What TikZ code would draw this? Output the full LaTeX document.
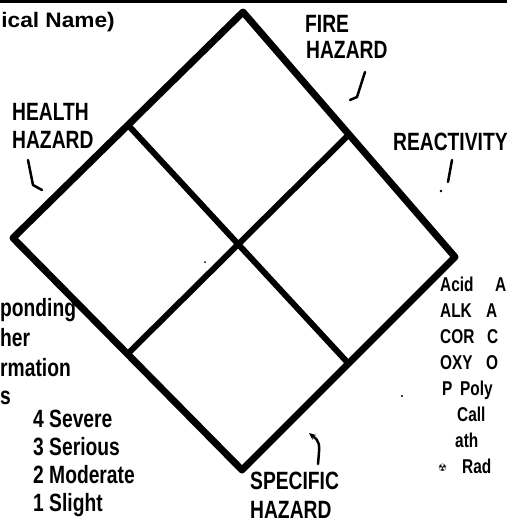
\documentclass[tikz,border=0pt]{standalone}
\usepackage{fontspec}
\setmainfont{Liberation Sans}[FakeStretch=0.77]
\newfontfamily\widefont{Liberation Sans}[FakeStretch=1.08]
\newfontfamily\symfont{DejaVu Sans}
\usetikzlibrary{arrows.meta,calc}
\begin{document}
\begin{tikzpicture}[x=1pt,y=-1pt,
  lbl/.style={anchor=base west, inner sep=0pt, font=\fontsize{25}{25}\selectfont\bfseries},
  small/.style={anchor=base west, inner sep=0pt, font=\fontsize{20}{20}\selectfont\bfseries},
  frame/.style={line width=7pt, line join=round, line cap=round},
  divider/.style={line width=6pt, line cap=round},
  pointer/.style={line width=2.5pt, line cap=round, line join=round}]
\useasboundingbox (0,0) rectangle (507,528);
\clip (0,0) rectangle (507,528);
% top border
\coordinate (bl) at (0,1.5);
\coordinate (br) at (507,1.5);
\draw[line width=2.2pt] (bl) -- (br);
% diamond
\coordinate (T) at (243,12);
\coordinate (R) at (455,257);
\coordinate (B) at (242,470);
\coordinate (L) at (13,238);
\draw[frame] (T) -- (R) -- (B) -- (L) -- cycle;
\coordinate (mTL) at ($(T)!0.5!(L)$);
\coordinate (mTR) at ($(T)!0.5!(R)$);
\coordinate (mBR) at ($(B)!0.5!(R)$);
\coordinate (mBL) at ($(B)!0.5!(L)$);
\draw[divider] (mTL) -- (mBR);
\draw[divider] (mTR) -- (mBL);
% header
\node[anchor=base east, inner sep=0pt, font=\widefont\fontsize{21}{21}\selectfont\bfseries] (cname) at (115,27) {ical Name)};
% labels
\node[lbl] (fire1) at (305,32) {FIRE};
\node[lbl] (fire2) at (306,58) {HAZARD};
\node[lbl] (health1) at (12,120) {HEALTH};
\node[lbl] (health2) at (12,148) {HAZARD};
\node[lbl] (react) at (393,150) {REACTIVITY};
\node[lbl] (spec1) at (250,489) {SPECIFIC};
\node[lbl] (spec2) at (250,518) {HAZARD};
% pointers
\coordinate (fa1) at (365,72);
\coordinate (fa2) at (357,97);
\coordinate (fa3) at (350,100);
\draw[pointer] (fa1) -- (fa2) -- (fa3);
\coordinate (ha1) at (28,160);
\coordinate (ha2) at (33,185);
\coordinate (ha3) at (42,190);
\draw[pointer] (ha1) -- (ha2) -- (ha3);
\coordinate (ra1) at (452,160);
\coordinate (ra2) at (448,182);
\draw[pointer] (ra1) -- (ra2);
\fill (441,191) circle (1.3pt);
\coordinate (sa1) at (318,464);
\coordinate (sa2) at (309,433);
\draw[pointer,-{Stealth[length=7pt,width=6pt]}] (sa1) .. controls (320,442) .. (sa2);
% left fragments
\node[lbl] (l1) at (0,316) {ponding};
\node[lbl] (l2) at (0,346) {her};
\node[lbl] (l3) at (0,376) {rmation};
\node[lbl] (l4) at (0,404) {s};
% legend
\node[lbl] (g4) at (33,427) {4 Severe};
\node[lbl] (g3) at (33,455) {3 Serious};
\node[lbl] (g2) at (33,483) {2 Moderate};
\node[lbl] (g1) at (33,511) {1 Slight};
% right column
\node[small] (r1a) at (440,291) {Acid};
\node[small] (r1b) at (495,291) {A};
\node[small] (r2a) at (440,317) {ALK};
\node[small] (r2b) at (486,317) {A};
\node[small] (r3a) at (440,343) {COR};
\node[small] (r3b) at (487,343) {C};
\node[small] (r4a) at (440,369) {OXY};
\node[small] (r4b) at (486,369) {O};
\node[small] (r5a) at (442,395) {P};
\node[small] (r5b) at (460,395) {Poly};
\node[small] (r6) at (457,421) {Call};
\node[small] (r7) at (455,447) {ath};
\node[small, font=\symfont\fontsize{10}{10}\selectfont] (r8a) at (438,471) {☢};
\node[small] (r8b) at (462,473) {Rad};
\fill (402,396) circle (1.2pt);
\fill (205,262) circle (1pt);
\end{tikzpicture}
\end{document}
